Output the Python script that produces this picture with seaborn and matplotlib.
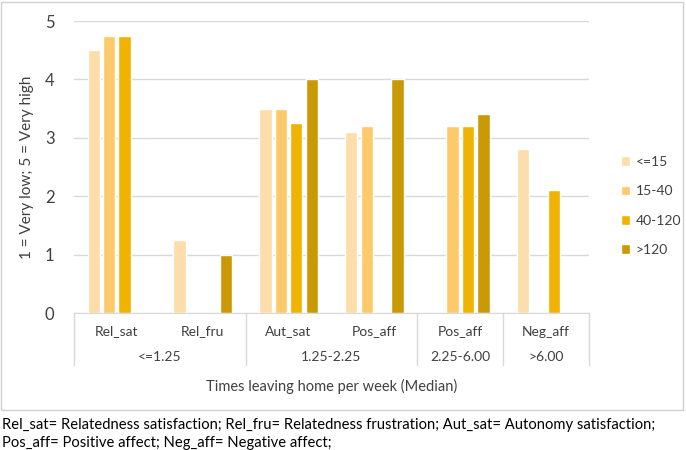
import numpy as np
import pandas as pd
import matplotlib
matplotlib.use("Agg")
import matplotlib.pyplot as plt
import matplotlib.transforms as mtransforms
from matplotlib.patches import Rectangle
import seaborn as sns

# ---------- data ----------
metrics = ["Rel_sat", "Rel_fru", "Aut_sat", "Pos_aff", "Pos_aff", "Neg_aff"]
groups = ["<=1.25", "<=1.25", "1.25-2.25", "1.25-2.25", "2.25-6.00", ">6.00"]
minutes = ["<=15", "15-40", "40-120", ">120"]

v_le15 = [4.5, 1.25, 3.5, 3.1, np.nan, 2.8]
v_15_40 = [4.75, np.nan, 3.5, 3.2, 3.2, np.nan]
v_40_120 = [4.75, np.nan, 3.25, np.nan, 3.2, 2.1]
v_gt120 = [np.nan, 1.0, 4.0, 4.0, 3.4, np.nan]

colors = ["#FDDDAA", "#FCC96B", "#EFB300", "#C99A06"]

# unique key per column (Pos_aff appears twice)
keys = [f"{m}|{g}" for m, g in zip(metrics, groups)]
rows = []
for lab, vals in zip(minutes, [v_le15, v_15_40, v_40_120, v_gt120]):
    for k, v in zip(keys, vals):
        rows.append({"key": k, "minutes": lab, "value": v})
df = pd.DataFrame(rows)

# ---------- plot ----------
sns.set_style("white")
plt.rcParams["font.family"] = ["Lato", "DejaVu Sans"]

fig = plt.figure(figsize=(6.86, 4.5), dpi=100)
ax = fig.add_axes([74 / 686, 1 - 313 / 450, (589 - 74) / 686, (313 - 21) / 450])

sns.barplot(data=df, x="key", y="value", hue="minutes", order=keys,
            hue_order=minutes, palette=colors, width=0.72, gap=0.2,
            errorbar=None, ax=ax, saturation=1)

ax.set_ylim(0, 5)
ax.set_xlim(-0.5, len(keys) - 0.5)
ax.set_yticks(range(6))
ax.yaxis.grid(True, color="#D9D9D9", lw=1)
ax.set_axisbelow(True)
for s in ["top", "right", "left"]:
    ax.spines[s].set_visible(False)
ax.spines["bottom"].set_color("#D9D9D9")
ax.tick_params(axis="y", length=0, labelsize=12, colors="#404040", pad=14)
ax.set_xticks(range(len(keys)))
ax.set_xticklabels(metrics, fontsize=10, color="#404040")
ax.tick_params(axis="x", length=0, pad=9)
ax.set_xlabel("")
ax.set_ylabel("1 = Very low; 5 = Very high", fontsize=11, color="#404040", labelpad=8)

# category table below axis
trans = mtransforms.blended_transform_factory(ax.transData, ax.transAxes)
for xb in [-0.5, 1.5, 3.5, 4.5, 5.5]:
    ax.plot([xb, xb], [0, -52 / 292], color="#D9D9D9", lw=1,
            transform=trans, clip_on=False)
group_names = []
group_pos = []
for i, g in enumerate(groups):
    if g not in group_names:
        group_names.append(g)
        group_pos.append([i])
    else:
        group_pos[group_names.index(g)].append(i)
for g, pos in zip(group_names, group_pos):
    ax.text(np.mean(pos), -44 / 292, g, transform=trans, ha="center",
            va="center", fontsize=10, color="#404040")
ax.text(0.5, -73 / 292, "Times leaving home per week (Median)", transform=ax.transAxes,
        ha="center", va="center", fontsize=10.5, color="#404040")

# legend
ax.legend(title=None, frameon=False, loc="center left",
          bbox_to_anchor=(608 / 686, 1 - 206 / 450), bbox_transform=fig.transFigure,
          fontsize=10, handlelength=0.7, handleheight=0.7, handletextpad=0.4,
          labelspacing=1.25, labelcolor="#404040")

# chart border and caption
fig.patches.append(Rectangle((1 / 686, 1 - 410 / 450), 682 / 686, 408 / 450,
                             transform=fig.transFigure, fill=False,
                             edgecolor="#D0D0D0", lw=1))
fig.text(2 / 686, 1 - 425 / 450,
         "Rel_sat= Relatedness satisfaction; Rel_fru= Relatedness frustration; Aut_sat= Autonomy satisfaction;",
         fontsize=10.6, va="center", ha="left", color="black")
fig.text(2 / 686, 1 - 443 / 450, "Pos_aff= Positive affect; Neg_aff= Negative affect;",
         fontsize=10.6, va="center", ha="left", color="black")

fig.savefig("out.png", dpi=100)
